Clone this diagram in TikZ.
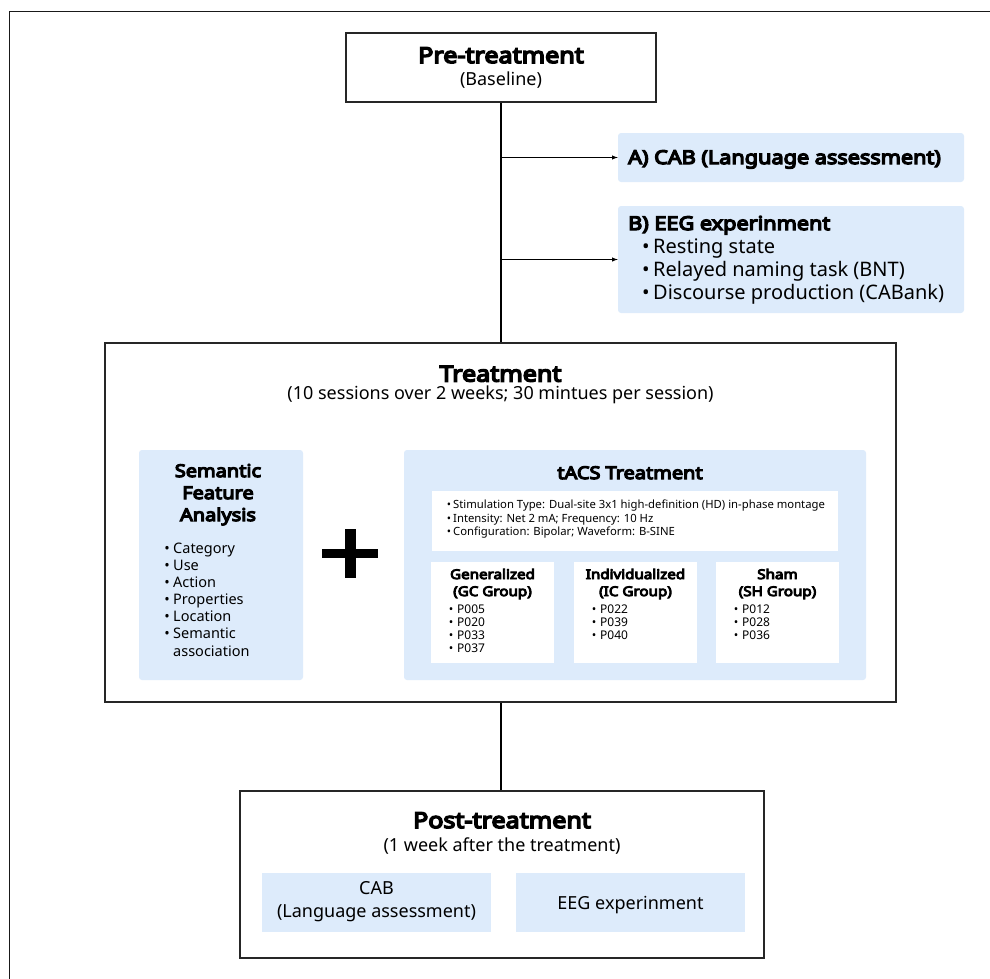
\documentclass[tikz,border=0pt]{standalone}
\usepackage{fontspec}
\setmainfont{Noto Sans}
\newfontfamily\heavy{Noto Sans}[FakeBold=7, FakeStretch=1.14]
\definecolor{paleblue}{RGB}{221,235,251}
\newcommand{\fsz}[1]{\fontsize{#1}{#1}\selectfont}
\tikzset{
  stage/.style={draw=black!85, line width=1.4pt, fill=white, inner sep=0pt},
  bluebox/.style={fill=paleblue, rounded corners=3pt, inner sep=0pt},
  whitebox/.style={fill=white, inner sep=0pt},
  txt/.style={inner sep=0pt, anchor=base},
  ltxt/.style={inner sep=0pt, anchor=base west},
  title/.style={txt, font=\heavy\fsz{22}},
  sub/.style={txt, font=\fsz{18}},
}
\begin{document}
\begin{tikzpicture}[x=1pt, y=-1pt, >=latex]
	\useasboundingbox (0,0) rectangle (990,978);
	% frame round the whole figure
	\draw[line width=1.6pt, black!90] (9.5,1000) -- (9.5,11.5) -- (1010,11.5);

	% the three stages
	\node[stage, minimum width=310pt, minimum height=69pt] (pre) at (501,67.5) {};
	\node[stage, minimum width=791pt, minimum height=359pt] (treat) at (500.5,522.5) {};
	\node[stage, minimum width=524pt, minimum height=167pt] (post) at (502,874.5) {};

	% pre-treatment assessments
	\node[bluebox, minimum width=346pt, minimum height=49pt] (cab) at (791,157.5) {};
	\node[bluebox, minimum width=346pt, minimum height=107pt] (eeg) at (791,259.5) {};

	% trunk and branches
	\draw[line width=1.2pt] (pre.south) -- (pre.south |- treat.north);
	\draw[line width=1.2pt] (pre.south |- treat.south) -- (pre.south |- post.north);
	\draw[->, line width=1pt] (pre.south |- cab.west) -- (cab.west);
	\draw[->, line width=1pt] (pre.south |- eeg.west) -- (eeg.west);

	\node[title] (pretitle) at (501,63) {Pre-treatment};
	\node[sub] (presub) at (501,85) {(Baseline)};

	\node[ltxt, font=\heavy\fsz{19}] (cabtxt) at (628,164) {A) CAB (Language assessment)};
	\node[ltxt, font=\heavy\fsz{19}] (eegtxt) at (628,230) {B) EEG experinment};
	\foreach \t [count=\k] in {Resting state, Relayed naming task (BNT), Discourse production (CABank)}
		{
			\node[txt, font=\fsz{20}] (eegdot\k) at (646,230+23*\k) {•};
			\node[ltxt, font=\fsz{20}] (eegitem\k) at (653,230+23*\k) {\t};
		}

	% treatment
	\node[title] (treattitle) at (500.5,381.5) {Treatment};
	\node[sub] (treatsub) at (500.5,399) {(10 sessions over 2 weeks; 30 mintues per session)};

	\node[bluebox, minimum width=164pt, minimum height=230pt] (sfa) at (221,565) {};
	\foreach \t [count=\k] in {Semantic, Feature, Analysis}
		\node[txt, font=\heavy\fsz{17.5}] (sfatitle\k) at (218,455+22*\k) {\t};
	\foreach \t [count=\k] in {Category, Use, Action, Properties, Location, Semantic}
		{
			\node[txt, font=\fsz{14.5}] (sfadot\k) at (167,536+17*\k) {•};
			\node[ltxt, font=\fsz{14.5}] (sfaitem\k) at (173,536+17*\k) {\t};
		}
	\node[ltxt, font=\fsz{14.5}] (sfaitem7) at (173,656) {association};

	% plus sign
	\fill (322,548.5) rectangle (378,558);
	\fill (344.5,529) rectangle (356,578);

	\node[bluebox, minimum width=462pt, minimum height=230pt] (tacs) at (635,565) {};
	\node[txt, font=\heavy\fsz{17.5}] (tacstitle) at (630,479) {tACS Treatment};
	\node[whitebox, minimum width=406pt, minimum height=60pt] (param) at (635,521) {};
	\foreach \t [count=\k] in {Stimulation Type: Dual-site 3x1 high-definition (HD) in-phase montage,
		Intensity: Net 2 mA; Frequency: 10 Hz, Configuration: Bipolar; Waveform: B-SINE}
		{
			\node[txt, font=\fsz{11.3}] (paramdot\k) at (449,495+13.5*\k) {•};
			\node[ltxt, font=\fsz{11.3}] (paramitem\k) at (453,495+13.5*\k) {\t};
		}

	% stimulation groups
	\node[whitebox, minimum width=123pt, minimum height=101pt] (gc) at (492.5,612.5) {};
	\node[whitebox, minimum width=123pt, minimum height=101pt] (ic) at (635.5,612.5) {};
	\node[whitebox, minimum width=123pt, minimum height=101pt] (sh) at (777.5,612.5) {};
	\node[txt, font=\heavy\fsz{13.3}] (gctitle) at (gc |- 0,579) {Generalized};
	\node[txt, font=\heavy\fsz{13.3}] (gctag) at (gc |- 0,596) {(GC Group)};
	\node[txt, font=\heavy\fsz{13.3}] (ictitle) at (ic |- 0,579) {Individualized};
	\node[txt, font=\heavy\fsz{13.3}] (ictag) at (ic |- 0,596) {(IC Group)};
	\node[txt, font=\heavy\fsz{13.3}] (shtitle) at (sh |- 0,579) {Sham};
	\node[txt, font=\heavy\fsz{13.3}] (shtag) at (sh |- 0,596) {(SH Group)};
	\foreach \p [count=\k] in {P005, P020, P033, P037}
		{
			\node[txt, font=\fsz{12}] (gcdot\k) at (451,600+13*\k) {•};
			\node[ltxt, font=\fsz{12}] (gcitem\k) at (457,600+13*\k) {\p};
		}
	\foreach \p [count=\k] in {P022, P039, P040}
		{
			\node[txt, font=\fsz{12}] (icdot\k) at (594,600+13*\k) {•};
			\node[ltxt, font=\fsz{12}] (icitem\k) at (600,600+13*\k) {\p};
		}
	\foreach \p [count=\k] in {P012, P028, P036}
		{
			\node[txt, font=\fsz{12}] (shdot\k) at (736,600+13*\k) {•};
			\node[ltxt, font=\fsz{12}] (shitem\k) at (742,600+13*\k) {\p};
		}

	% post-treatment
	\node[title] (posttitle) at (502,828) {Post-treatment};
	\node[sub] (postsub) at (502,851) {(1 week after the treatment)};
	\node[bluebox, rounded corners=0pt, minimum width=229pt, minimum height=59pt] (postcab) at (376.5,902.5) {};
	\node[bluebox, rounded corners=0pt, minimum width=229pt, minimum height=59pt] (posteeg) at (630.5,902.5) {};
	\node[sub] (postcab1) at (376.5,894) {CAB};
	\node[sub] (postcab2) at (376.5,917) {(Language assessment)};
	\node[sub] (posteegtxt) at (630.5,909) {EEG experinment};
\end{tikzpicture}
\end{document}
